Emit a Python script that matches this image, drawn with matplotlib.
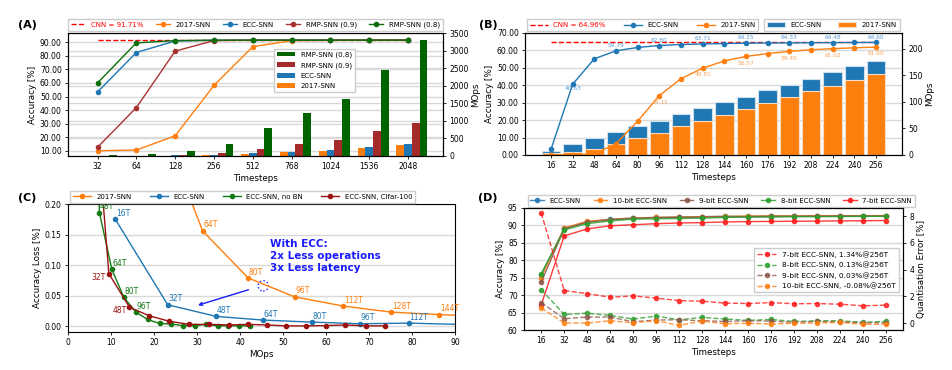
import numpy as np
import matplotlib
matplotlib.use('Agg')
import matplotlib.pyplot as plt
from matplotlib.patches import Ellipse
from matplotlib.ticker import FormatStrFormatter
from matplotlib.transforms import blended_transform_factory

# (A) accuracy / MOps vs timesteps
a_steps = ['32', '64', '128', '256', '512', '768', '1024', '1536', '2048']
a_cnn = 91.71
a_acc_2017 = [10.0, 10.5, 21.0, 58.2, 86.8, 91.2, 91.5, 91.6, 91.6]
a_acc_ecc = [53.3, 82.5, 91.0, 91.5, 91.6, 91.6, 91.6, 91.6, 91.6]
a_acc_rmp09 = [12.5, 41.8, 83.5, 91.3, 91.6, 91.6, 91.6, 91.6, 91.6]
a_acc_rmp08 = [60.0, 89.6, 91.3, 91.6, 91.6, 91.6, 91.6, 91.6, 91.6]
a_ops_2017 = [2, 4, 10, 25, 60, 110, 150, 230, 320]
a_ops_ecc = [2, 6, 15, 35, 80, 120, 165, 250, 340]
a_ops_rmp09 = [4, 12, 35, 85, 210, 330, 450, 700, 950]
a_ops_rmp08 = [15, 50, 140, 350, 800, 1220, 1620, 2450, 3300]

# (B) CIFAR-100 style panel
b_steps = [16, 32, 48, 64, 80, 96, 112, 128, 144, 160, 176, 192, 208, 224, 240, 256]
b_cnn = 64.96
b_acc_ecc = [3.2, 40.63, 55.2, 59.79, 61.7, 62.80, 63.4, 63.71, 63.95, 64.15,
             64.25, 64.33, 64.42, 64.48, 64.55, 64.60]
b_acc_2017 = [0.1, 0.1, 0.5, 6.5, 19.4, 34.11, 43.8, 49.81, 54.0, 56.57,
              58.2, 59.45, 60.4, 61.02, 61.5, 61.90]
b_ops_ecc = [7.6, 20, 31.5, 43, 55, 65, 78, 88, 99, 110, 122, 132, 144, 156, 167, 178]
b_ops_2017 = [3.2, 6.3, 12, 21, 31.5, 42, 54, 65, 76, 86, 98, 109, 120, 131, 142, 153]
b_lbl_ecc = [1, 3, 5, 7, 9, 11, 13, 15]
b_lbl_2017 = [5, 7, 9, 11, 13, 15]

# (C) accuracy loss vs MOps
c_2017_ops = [23.5, 31.3, 41.9, 52.7, 64.0, 75.2, 86.3, 97.5]
c_2017_loss = [0.30, 0.156, 0.079, 0.048, 0.033, 0.023, 0.019, 0.016]
c_2017_lbl = ['48T', '64T', '80T', '96T', '112T', '128T', '144T', '160T']
c_ecc_ops = [11.0, 23.2, 34.5, 45.4, 56.7, 67.9, 79.2, 90.5]
c_ecc_loss = [0.175, 0.035, 0.016, 0.010, 0.0067, 0.004, 0.005, 0.003]
c_ecc_lbl = ['16T', '32T', '48T', '64T', '80T', '96T', '112T', '128T']
c_nobn_ops = [4.9, 7.3, 10.2, 13.0, 15.8, 18.5, 21.3, 24.0, 26.7, 29.5, 32.2, 34.8,
              37.2, 39.8, 42.4]
c_nobn_loss = [0.9, 0.186, 0.093, 0.047, 0.023, 0.011, 0.0045, 0.0035, 0.001, 0.001,
               0.003, 0.0005, 0.0008, 0.0005, 0.0005]
c_nobn_lbl = ['32T', '48T', '64T', '80T', '96T']
c_c100_ops = [4.8, 9.5, 14.3, 18.9, 23.6, 28.2, 32.9, 37.5, 41.8, 46.3, 50.8, 55.3,
              60.0, 64.5, 69.2, 73.7]
c_c100_loss = [0.50, 0.086, 0.031, 0.017, 0.008, 0.003, 0.003, 0.002, 0.003, 0.002,
               0.0005, 0.0005, 0.001, 0.002, 0.0005, 0.0005]
c_c100_lbl = ['16T', '32T', '48T']

# (D) quantisation
d_steps = [16, 32, 48, 64, 80, 96, 112, 128, 144, 160, 176, 192, 208, 224, 240, 256]
d_acc_ecc = [75.7, 89.2, 91.0, 91.8, 92.1, 92.3, 92.4, 92.5, 92.6, 92.6, 92.7, 92.7,
             92.7, 92.7, 92.75, 92.75]
d_acc_10 = [75.0, 89.3, 91.2, 91.7, 92.1, 92.3, 92.4, 92.5, 92.6, 92.7, 92.75, 92.75,
            92.8, 92.8, 92.8, 92.83]
d_acc_9 = [73.7, 89.0, 90.9, 91.6, 92.0, 92.2, 92.3, 92.4, 92.5, 92.5, 92.6, 92.6,
           92.65, 92.7, 92.7, 92.72]
d_acc_8 = [76.2, 88.7, 90.5, 91.3, 91.8, 91.9, 92.0, 92.1, 92.3, 92.4, 92.4, 92.5,
           92.5, 92.55, 92.6, 92.62]
d_acc_7 = [67.2, 87.0, 89.0, 89.9, 90.2, 90.5, 90.7, 90.8, 91.0, 91.1, 91.15, 91.2,
           91.25, 91.3, 91.35, 91.41]
d_err_7 = [8.22, 2.43, 2.2, 1.93, 2.03, 1.86, 1.68, 1.63, 1.49, 1.46, 1.53, 1.44,
           1.46, 1.41, 1.29, 1.34]
d_err_8 = [2.5, 0.64, 0.74, 0.57, 0.3, 0.52, 0.25, 0.42, 0.3, 0.2, 0.27, 0.12,
           0.17, 0.17, 0.05, 0.13]
d_err_9 = [1.53, 0.32, 0.45, 0.45, 0.1, 0.22, 0.25, 0.17, 0.12, 0.17, 0.15, 0.05,
           0.12, 0.1, 0.02, 0.03]
d_err_10 = [1.14, 0.0, 0.0, 0.17, 0.02, 0.17, -0.17, 0.15, -0.05, -0.02, -0.07, -0.02,
            0.0, 0.05, -0.1, -0.08]

plt.rcParams['font.family'] = 'DejaVu Sans'
plt.rcParams['font.size'] = 5.5
plt.rcParams['axes.linewidth'] = 0.8
plt.rcParams['xtick.major.size'] = 2.5
plt.rcParams['ytick.major.size'] = 2.5
plt.rcParams['xtick.major.width'] = 0.6
plt.rcParams['ytick.major.width'] = 0.6
plt.rcParams['xtick.major.pad'] = 2
plt.rcParams['ytick.major.pad'] = 2
plt.rcParams['axes.labelsize'] = 6.3
plt.rcParams['axes.labelpad'] = 2
plt.rcParams['legend.fontsize'] = 5
plt.rcParams['legend.edgecolor'] = '#cccccc'
plt.rcParams['legend.fancybox'] = False
plt.rcParams['legend.framealpha'] = 1
plt.rcParams['legend.columnspacing'] = 1.8
plt.rcParams['legend.handlelength'] = 2.0
plt.rcParams['legend.borderaxespad'] = 0.3

BLUE = '#1f77b4'
ORANGE = '#ff7f0e'
GRID = '#d9d9d9'
W, H = 952, 370


def px_axes(l, t, r, b):
    return fig.add_axes([l / W, 1 - b / H, (r - l) / W, (b - t) / H])


def left_grid(ax, tw, ticks):
    # horizontal grid at the left-axis ticks, drawn under the bars on the twin axis
    tr = blended_transform_factory(tw.transAxes, ax.transData)
    for v in ticks:
        tw.plot([0, 1], [v, v], transform=tr, color=GRID, lw=1, zorder=0.3, clip_on=True)


fig = plt.figure(figsize=(W / 100, H / 100), dpi=100)
mk = dict(marker='o', ms=3, lw=1)

# ---------------- (A)
ax = px_axes(68, 33, 443, 156)
tw = ax.twinx()
ax.set_zorder(tw.get_zorder() + 1)
ax.patch.set_visible(False)
idx = np.arange(len(a_steps))
bw = 0.2
bars = []
for k, (vals, col) in enumerate([(a_ops_2017, ORANGE), (a_ops_ecc, BLUE),
                                 (a_ops_rmp09, '#a52a2a'), (a_ops_rmp08, '#006400')]):
    bars.append(tw.bar(idx + (k - 1) * bw, vals, width=bw, color=col, zorder=1))
tw.set_ylim(0, 3510)
tw.set_yticks(range(0, 3501, 500))
tw.set_ylabel('MOps')
tw.set_axisbelow(True)
tw.grid(axis='y', color=GRID, lw=1, zorder=0.3)
a_yt = range(10, 91, 10)
left_grid(ax, tw, a_yt)

h_cnn = ax.plot([0, len(a_steps) - 1], [a_cnn, a_cnn], '--', color='red', lw=1)[0]
h1 = ax.plot(idx, a_acc_2017, color=ORANGE, **mk)[0]
h2 = ax.plot(idx, a_acc_ecc, color=BLUE, **mk)[0]
h3 = ax.plot(idx, a_acc_rmp09, color='#a83232', **mk)[0]
h4 = ax.plot(idx, a_acc_rmp08, color='#0b6e0b', **mk)[0]
ax.set_xlim(-0.76, 8.9)
ax.set_ylim(6.1, 96.9)
ax.set_yticks(list(a_yt))
ax.yaxis.set_major_formatter(FormatStrFormatter('%.2f'))
ax.set_xticks(idx)
ax.set_xticklabels(a_steps)
ax.set_xlabel('Timesteps')
ax.set_ylabel('Accuracy [%]')
lb = ax.legend(bars[::-1], ['RMP-SNN (0.8)', 'RMP-SNN (0.9)', 'ECC-SNN', '2017-SNN'],
               loc='upper left', bbox_to_anchor=(0.545, 0.89), handlelength=2.6,
               labelspacing=0.6)
ax.add_artist(lb)
la = ax.legend([h_cnn, h1, h2, h3, h4],
               ['CNN = 91.71%', '2017-SNN', 'ECC-SNN', 'RMP-SNN (0.9)', 'RMP-SNN (0.8)'],
               ncol=5, loc='lower center', bbox_to_anchor=(0.5, 1.0))
la.get_texts()[0].set_color('red')
fig.text(18 / W, 1 - 25 / H, '(A)', fontsize=8, fontweight='bold', va='center')

# ---------------- (B)
ax = px_axes(525, 33, 902, 155)
tw = ax.twinx()
ax.set_zorder(tw.get_zorder() + 1)
ax.patch.set_visible(False)
bi = np.arange(len(b_steps))
hb1 = tw.bar(bi, b_ops_ecc, width=0.85, color=BLUE, edgecolor='#cfdfec', lw=0.8, zorder=1)
hb2 = tw.bar(bi, b_ops_2017, width=0.85, color=ORANGE, edgecolor='#f3dcc6', lw=0.8, zorder=1.1)
tw.set_ylim(0, 230)
tw.set_yticks([0, 50, 100, 150, 200])
tw.set_ylabel('MOps')
b_yt = range(0, 71, 10)
left_grid(ax, tw, b_yt)
hc = ax.plot([0, len(b_steps) - 1], [b_cnn, b_cnn], '--', color='red', lw=1)[0]
he = ax.plot(bi, b_acc_ecc, color=BLUE, **mk)[0]
ho = ax.plot(bi, b_acc_2017, color=ORANGE, **mk)[0]
for i in b_lbl_ecc:
    if i == 1:
        ax.annotate('%.2f' % b_acc_ecc[i], (bi[i], b_acc_ecc[i]), xytext=(0, -1.5),
                    textcoords='offset points', ha='center', va='top', fontsize=4.2,
                    color='#5b9bd5')
    else:
        ax.annotate('%.2f' % b_acc_ecc[i], (bi[i], b_acc_ecc[i]), xytext=(0, 2),
                    textcoords='offset points', ha='center', va='bottom', fontsize=4.2,
                    color='#5b9bd5')
for i in b_lbl_2017:
    ax.annotate('%.2f' % b_acc_2017[i], (bi[i], b_acc_2017[i]), xytext=(0, -3),
                textcoords='offset points', ha='center', va='top', fontsize=4.2,
                color='#f7a35c')
ax.set_xlim(-1.2, 16.2)
ax.set_ylim(0, 70)
ax.set_yticks(list(b_yt))
ax.yaxis.set_major_formatter(FormatStrFormatter('%.2f'))
ax.set_xticks(bi)
ax.set_xticklabels([str(s) for s in b_steps])
ax.set_xlabel('Timesteps')
ax.set_ylabel('Accuracy [%]')
l1 = ax.legend([hc, he, ho], ['CNN = 64.96%', 'ECC-SNN', '2017-SNN'], ncol=3,
               loc='lower left', bbox_to_anchor=(0.0, 1.0), columnspacing=2.6,
               handlelength=2.6)
l1.get_texts()[0].set_color('red')
ax.add_artist(l1)
ax.legend([hb1, hb2], ['ECC-SNN', '2017-SNN'], ncol=2, loc='lower right',
          bbox_to_anchor=(1.0, 1.0), columnspacing=2.4, handlelength=2.6)
fig.text(479 / W, 1 - 25 / H, '(B)', fontsize=8, fontweight='bold', va='center')

# ---------------- (C)
ax = px_axes(68, 204, 455, 332)
ax.set_axisbelow(True)
ax.grid(axis='y', color=GRID, lw=1)
series_c = [
    (c_2017_ops, c_2017_loss, c_2017_lbl, ORANGE, '2017-SNN', 'right'),
    (c_ecc_ops, c_ecc_loss, c_ecc_lbl, BLUE, 'ECC-SNN', 'right'),
    (c_nobn_ops, c_nobn_loss, c_nobn_lbl, '#137a13', 'ECC-SNN, no BN', 'right'),
    (c_c100_ops, c_c100_loss, c_c100_lbl, '#9b1111', 'ECC-SNN, Cifar-100', 'left'),
]
hs = []
for xs, ys, lbls, col, name, side in series_c:
    hs.append(ax.plot(xs, ys, color=col, **mk)[0])
    for j, t in enumerate(lbls):
        if side == 'right':
            ax.annotate(t, (xs[j], ys[j]), xytext=(0.5, 1), textcoords='offset points',
                        ha='left', va='bottom', fontsize=5.5, color=col)
        else:
            ax.annotate(t, (xs[j], ys[j]), xytext=(-2, -2.5), textcoords='offset points',
                        ha='right', va='center', fontsize=5.5, color=col)
ax.text(47.0, 0.142, 'With ECC:\n2x Less operations\n3x Less latency', color='#1a1aff',
        fontsize=7.5, fontweight='bold', va='top', ha='left', linespacing=1.25)
ax.annotate('', xy=(29.6, 0.033), xytext=(42.6, 0.061),
            arrowprops=dict(arrowstyle='->', color='#1a1aff', lw=1))
ax.add_patch(Ellipse((45.4, 0.066), 2.4, 0.017, fill=False, ec='#1a1aff', ls=':', lw=1))
ax.set_xlim(0, 90)
ax.set_ylim(-0.0095, 0.2)
ax.set_xticks(range(0, 91, 10))
ax.set_yticks([0, 0.05, 0.1, 0.15, 0.2])
ax.yaxis.set_major_formatter(FormatStrFormatter('%.2f'))
ax.set_xlabel('MOps')
ax.set_ylabel('Accuracy Loss [%]')
ax.legend(hs, [s[4] for s in series_c], ncol=4, loc='lower left',
          bbox_to_anchor=(0.0, 0.995), columnspacing=2.6, handlelength=2.6)
fig.text(18 / W, 1 - 198 / H, '(C)', fontsize=8, fontweight='bold', va='center')

# ---------------- (D)
ax = px_axes(524, 208, 903, 330)
tw = ax.twinx()
ax.set_axisbelow(True)
ax.grid(axis='y', color=GRID, lw=1)
cols_d = [BLUE, ORANGE, '#8c564b', '#2ca02c', '#ff1a1a']
names_d = ['ECC-SNN', '10-bit ECC-SNN', '9-bit ECC-SNN', '8-bit ECC-SNN', '7-bit ECC-SNN']
hd = []
for vals, col in zip([d_acc_ecc, d_acc_10, d_acc_9, d_acc_8, d_acc_7], cols_d):
    hd.append(ax.plot(d_steps, vals, color=col, alpha=0.85, **mk)[0])
he_d = []
for vals, col in zip([d_err_7, d_err_8, d_err_9, d_err_10], cols_d[::-1][:4]):
    he_d.append(tw.plot(d_steps, vals, '--', color=col, alpha=0.8, **mk)[0])
ax.set_xlim(4, 268)
ax.set_ylim(60, 95)
ax.set_yticks(range(60, 96, 5))
ax.set_xticks(d_steps)
tw.set_ylim(-0.52, 8.6)
tw.set_yticks([0, 2, 4, 6, 8])
ax.set_xlabel('Timesteps')
ax.set_ylabel('Accuracy [%]')
tw.set_ylabel('Quantisation Error [%]')
ax.legend(hd, names_d, ncol=5, loc='lower center', bbox_to_anchor=(0.52, 0.995))
tw.legend(he_d, ['7-bit ECC-SNN, 1.34%@256T', '8-bit ECC-SNN, 0.13%@256T',
                 '9-bit ECC-SNN, 0.03%@256T', '10-bit ECC-SNN, -0.08%@256T'],
          loc='center right', bbox_to_anchor=(0.995, 0.49), handlelength=2.6,
          fontsize=5.3)
fig.text(478 / W, 1 - 198 / H, '(D)', fontsize=8, fontweight='bold', va='center')

fig.savefig('out.png', dpi=100)
